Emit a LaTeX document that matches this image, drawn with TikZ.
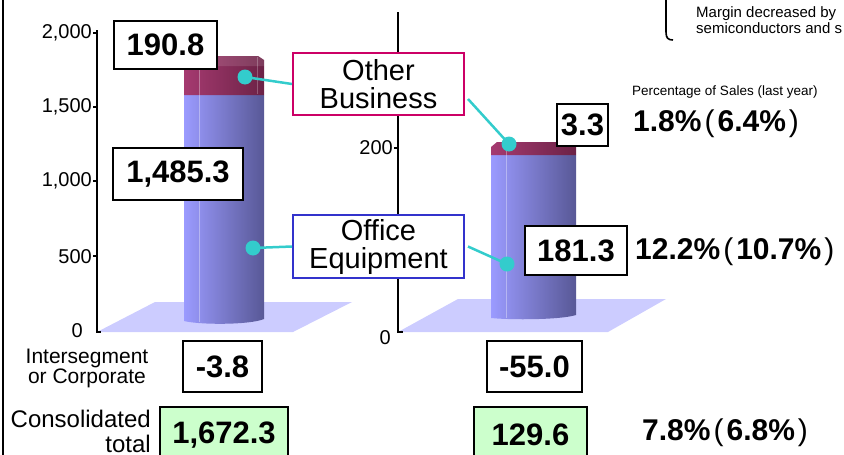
\documentclass[tikz,border=0pt]{standalone}
\usepackage{fontspec}
\setmainfont{Liberation Sans}
\usetikzlibrary{positioning}

\definecolor{oeblueL}{RGB}{155,155,255}
\definecolor{oeblueR}{RGB}{88,88,150}
\definecolor{obredL}{RGB}{165,58,112}
\definecolor{obredR}{RGB}{108,34,70}
\definecolor{floorblue}{RGB}{204,204,255}
\definecolor{callcyan}{RGB}{51,204,204}
\definecolor{otherpink}{RGB}{204,0,102}
\definecolor{officeblue}{RGB}{51,51,204}
\definecolor{totgreen}{RGB}{204,255,204}

\newcommand\lpr{\hspace{3pt}{\mdseries (}\hspace{3pt}}
\newcommand\rpr{\hspace{3pt}{\mdseries )}}

\begin{document}
\begin{tikzpicture}[x=1pt, y=-1pt,
                    valbox/.style={draw, line width=2.4pt, fill=white, inner sep=0pt, font=\fontsize{31}{31}\selectfont\bfseries},
                    totbox/.style={valbox, fill=totgreen, minimum height=56pt},
                    legbox/.style={draw, line width=2pt, fill=white, align=center, inner sep=0pt, minimum width=171pt, minimum height=62pt, font=\fontsize{29}{28}\selectfont},
                    ticklabel/.style={anchor=east, inner sep=0pt, font=\fontsize{20}{20}\selectfont},
                    pctlabel/.style={anchor=west, inner sep=0pt, font=\fontsize{30}{30}\selectfont\bfseries},
                    callout/.style={callcyan, line width=2.5pt},
                    axisline/.style={line width=2pt},
                ]
                    \useasboundingbox (0,0) rectangle (844,455);
                    \clip (0,0) rectangle (844,455);

                    %Frame and note
                    \draw[line width=2pt] (2.5,0) -- (2.5,455);
                    \draw[line width=1.6pt] (666,0) -- (666,32) .. controls (666,38) and (668,40) .. (673,40);
                    \node[anchor=west, inner sep=0pt, align=left, font=\fontsize{15}{16}\selectfont] (note) at (696,20) {Margin decreased by\\semiconductors and s};

                    %Floors
                    \fill[floorblue] (97,332) -- (155,302) -- (352,302) -- (293,332) -- cycle;
                    \fill[floorblue] (398,332) -- (458,299) -- (666,299) -- (608,332) -- cycle;

                    %Cylinders
                    \shade[left color=oeblueL, right color=oeblueR] (184,95) -- (264,95) -- (264,319) .. controls (250,325) and (200,325) .. (184,321) -- cycle;
                    \shade[left color=obredL, right color=obredR] (184,95) -- (184,60) -- (190,56) -- (258,56) -- (264,60) -- (264,95) -- cycle;
                    \fill[white, opacity=0.12] (184,60) -- (190,56) -- (258,56) -- (264,60) -- (264,66) -- (184,66) -- cycle;
                    \draw[white, opacity=0.35, line width=0.8pt] (199,57) -- (199,322);
                    \draw[white, opacity=0.25, line width=0.8pt] (257,57) -- (257,94);

                    \shade[left color=oeblueL, right color=oeblueR] (491,155) -- (576,155) -- (576,315) .. controls (560,320) and (510,320) .. (491,318) -- cycle;
                    \shade[left color=obredL, right color=obredR] (491,155) -- (491,147) -- (497,142) -- (570,142) -- (576,147) -- (576,155) -- cycle;
                    \draw[white, opacity=0.35, line width=0.8pt] (506,143) -- (506,318);

                    %Axes
                    \draw[axisline] (97,30) -- (97,332) -- (101,332);
                    \foreach \yy in {33,107,181,256}
                        \draw[axisline] (93,\yy) -- (97,\yy);
                    \node[ticklabel] (l2000) at (92,33) {2,000};
                    \node[ticklabel] (l1500) at (92,107) {1,500};
                    \node[ticklabel] (l1000) at (92,181) {1,000};
                    \node[ticklabel] (l500) at (92,257) {500};
                    \node[ticklabel] (l0) at (83,331) {0};

                    \draw[axisline] (398,12) -- (398,332) -- (403,332);
                    \draw[axisline] (394,148) -- (398,148);
                    \node[ticklabel] (r200) at (393,148) {200};
                    \node[ticklabel] (r0) at (391,338) {0};

                    %Nodes
                    \node[legbox, draw=otherpink] (other) at (378.5,84) {Other\\Business};
                    \node[legbox, draw=officeblue, minimum height=63pt] (office) at (378.5,246.5) {Office\\Equipment};

                    \node[valbox, minimum width=103pt, minimum height=48pt] (val1) at (165.5,45) {190.8};
                    \node[valbox, minimum width=130pt, minimum height=52pt] (val2) at (178,174) {1,485.3};
                    \node[valbox, minimum width=51pt, minimum height=42pt] (val3) at (582.5,125) {3.3};
                    \node[valbox, minimum width=102pt, minimum height=49pt] (val4) at (576,250.5) {181.3};
                    \node[valbox, minimum width=79pt, minimum height=51pt] (val5) at (222.5,366.5) {-3.8};
                    \node[valbox, minimum width=95pt, minimum height=51pt] (val6) at (534.5,366.5) {-55.0};
                    \node[totbox, minimum width=128pt] (tot1) at (224,435) {1,672.3};
                    \node[totbox, minimum width=113pt] (tot2) at (530.5,435) {129.6};

                    \node[pctlabel] (pct1) at (633,124) {1.8\%\lpr 6.4\%\rpr};
                    \node[anchor=west, inner sep=0pt, font=\fontsize{13.5}{14}\selectfont] (pcthead) at (632,92) {Percentage of Sales (last year)};
                    \node[pctlabel] (pct2) at (635,252) {12.2\%\lpr 10.7\%\rpr};
                    \node[pctlabel] (pct3) at (642,433) {7.8\%\lpr 6.8\%\rpr};

                    \node[align=center, inner sep=0pt, font=\fontsize{21}{20}\selectfont] (interseg) at (87,368) {Intersegment\\or Corporate};
                    \node[anchor=east, align=right, inner sep=0pt, font=\fontsize{24}{25}\selectfont] (consol) at (151,431) {Consolidated\\total};

                    %Lines
                    \coordinate (dot1) at (245,77);
                    \coordinate (dot2) at (253,248);
                    \coordinate (dot3) at (509,144);
                    \coordinate (dot4) at (507,264);
                    \draw[callout] (dot1) -- (other.west);
                    \draw[callout] (dot2) -- (office.west);
                    \draw[callout] ([shift={(3,-17)}]other.south east) -- (dot3);
                    \draw[callout] ([shift={(3,0)}]office.east) -- (dot4);
                    \foreach \d in {dot1,dot2,dot3,dot4}
                        \fill[callcyan] (\d) circle (7.5pt);
\end{tikzpicture}
\end{document}
